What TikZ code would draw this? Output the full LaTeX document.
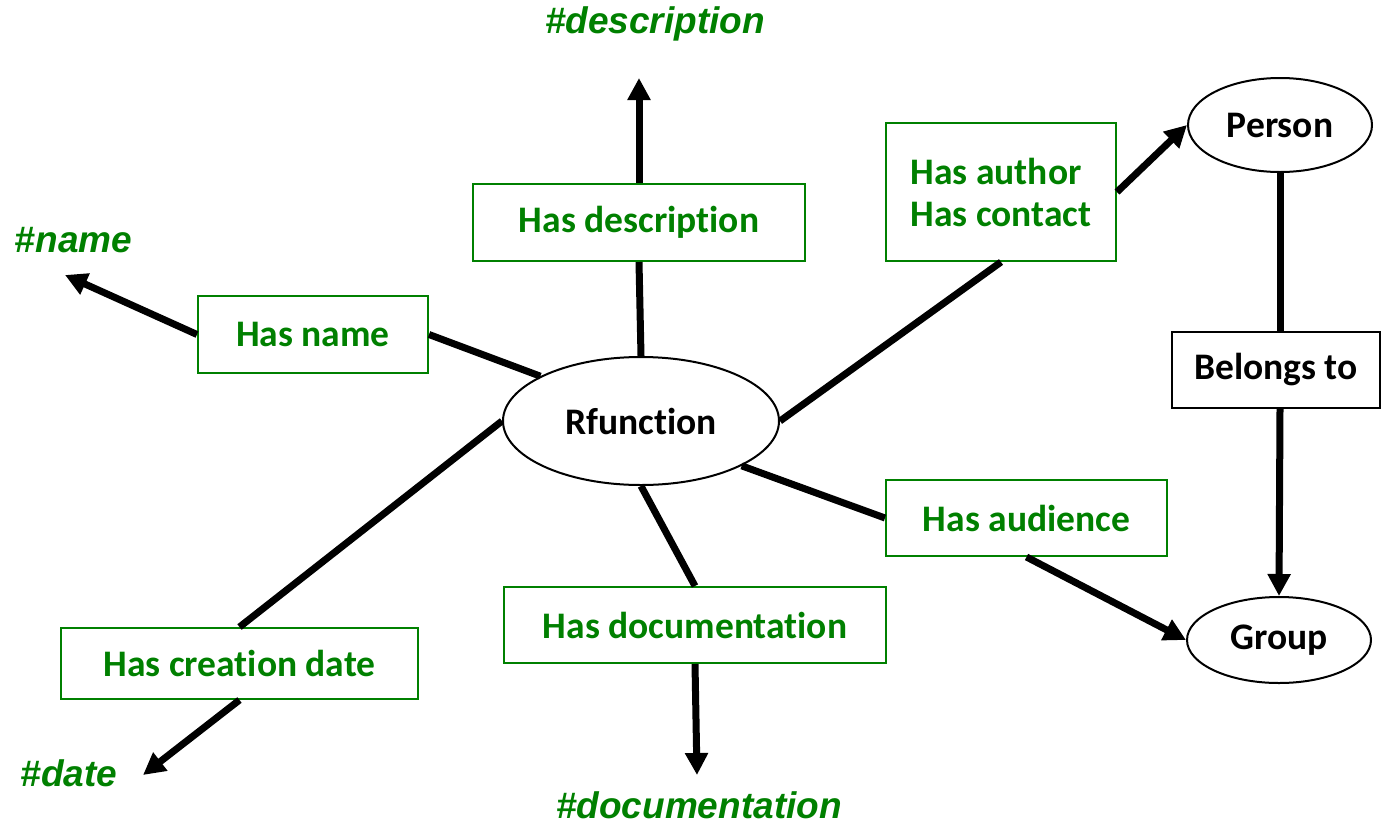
\documentclass[tikz,border=0pt]{standalone}
\usepackage{fontspec}
\setmainfont{Carlito}[RawFeature={-liga}]
\newfontfamily\lblfont{Liberation Sans}
\usetikzlibrary{shapes.geometric,arrows.meta}
\definecolor{dgreen}{RGB}{0,128,0}
\tikzset{
  txt/.style={font=\fontsize{37.5}{42}\selectfont\bfseries},
  gbox/.style={draw=dgreen, line width=2pt, text=dgreen, txt, rectangle, inner sep=0pt},
  kbox/.style={draw=black, line width=2pt, text=black, txt, rectangle, inner sep=0pt},
  ell/.style={draw=black, line width=2pt, ellipse, inner sep=0pt, txt},
  lbl/.style={text=dgreen, font=\fontsize{37}{42}\selectfont\lblfont\bfseries\itshape, inner sep=0pt},
  conn/.style={line width=7pt},
  arr/.style={line width=7pt, -{Triangle[length=22pt,width=22pt]}}
}
\begin{document}
\begin{tikzpicture}[x=1pt,y=-1pt]
\useasboundingbox (0,0) rectangle (1381,825);
% nodes
\node[ell, minimum width=276pt, minimum height=128pt] (rf) at (641,421) {Rfunction};
\node[ell, minimum width=184pt, minimum height=94pt] (person) at (1280,125) {Person};
\node[ell, minimum width=184pt, minimum height=86pt] (grp) at (1279,640) {Group};
\node[kbox, minimum width=208pt, minimum height=76pt] (bel) at (1276,370) {Belongs to};
\node[gbox, minimum width=332pt, minimum height=77pt] (hd) at (639,222.5) {Has description};
\node[gbox, minimum width=230pt, minimum height=138pt, align=left] (haa) at (1001,192) {Has author\\Has contact};
\node[gbox, minimum width=230pt, minimum height=77pt] (hn) at (313,334.5) {Has name};
\node[gbox, minimum width=281pt, minimum height=76pt] (ha) at (1026.5,518) {Has audience};
\node[gbox, minimum width=382pt, minimum height=76pt] (hdoc) at (695,625) {Has documentation};
\node[gbox, minimum width=357pt, minimum height=71pt] (hcd) at (239.5,663.5) {Has creation date};
% labels
\node[lbl] (ldesc) at (655,24) {\#description};
\node[lbl] (lname) at (73.5,240) {\#name};
\node[lbl] (ldate) at (69,773) {\#date};
\node[lbl] (ldoc) at (699,805) {\#documentation};
% free arrow ends
\coordinate (tdesc) at (639,78);
\coordinate (tname) at (65,275);
\coordinate (tdate) at (143,775);
\coordinate (tdoc) at (697,775);
% connectors
\draw[conn] (rf.north) -- (hd.south);
\draw[arr] (hd.north) -- (tdesc);
\draw[conn] (rf.156) -- (hn.east);
\draw[arr] (hn.west) -- (tname);
\draw[conn] (rf.west) -- (hcd.north);
\draw[arr] (hcd.south) -- (tdate);
\draw[conn] (rf.south) -- (hdoc.north);
\draw[arr] (hdoc.south) -- (tdoc);
\draw[conn] (rf.-24) -- (ha.west);
\draw[arr] (ha.south) -- (grp.west);
\draw[conn] (rf.east) -- (haa.south);
\draw[arr] (haa.east) -- (person.west);
\draw[conn] (person.south) -- (person.south |- bel.north);
\draw[arr] (person.south |- bel.south) -- (grp.north);
\end{tikzpicture}
\end{document}
